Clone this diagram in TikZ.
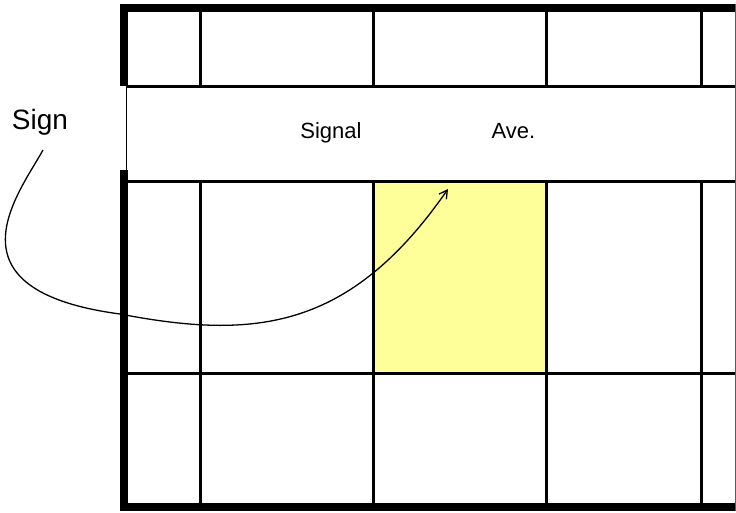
\documentclass[tikz,border=0pt]{standalone}
\usepackage{fontspec}
\setmainfont{Liberation Sans}
\usetikzlibrary{arrows.meta}
\definecolor{cellyellow}{RGB}{255,255,153}
\definecolor{edgegray}{RGB}{90,90,90}
\tikzset{
  gridline/.style={line width=3pt, black},
  frameline/.style={line width=8pt, black},
  bandbox/.style={fill=white, draw=black, line width=1pt},
  lbl/.style={font=\fontsize{22}{26}\selectfont, inner sep=0pt, anchor=base},
  callout/.style={-{Straight Barb[length=8pt,width=9pt]}, line width=1.3pt}
}

\begin{document}
\begin{tikzpicture}[x=1pt,y=-1pt]
  \useasboundingbox (0,0) rectangle (736,512);
  % highlighted cell
  \fill[cellyellow] (373,181) rectangle (546,373);
  % table rules
  \foreach \gx in {200,373,546,701}{
    \draw[gridline] (\gx,12) -- (\gx,86);
    \draw[gridline] (\gx,181) -- (\gx,503);
  }
  \draw[gridline] (127,373) -- (735,373);
  % header band
  \draw[bandbox] (126,86) rectangle (735,181);
  \draw[gridline] (127,86) -- (735,86);
  \draw[gridline] (127,181) -- (735,181);
  % outer frame
  \draw[frameline] (123.5,86) -- (123.5,8) -- (736,8);
  \draw[frameline] (123.5,170) -- (123.5,507) -- (736,507);
  \draw[edgegray, line width=1pt] (735.5,4) -- (735.5,511);
  % labels
  \node[lbl, font=\fontsize{28}{32}\selectfont] (sign) at (40,129) {Sign};
  \node[lbl] (signal) at (331,138) {Signal};
  \node[lbl] (ave) at (513.5,138) {Ave.};
  \coordinate (tail) at (43,150);
  \coordinate (bend) at (120,314);
  \coordinate (tip) at (448,189);
  \draw[callout] (tail) .. controls (20,192) and (-60,290) .. (bend)
    .. controls (255,340) and (350,330) .. (tip);
\end{tikzpicture}
\end{document}
